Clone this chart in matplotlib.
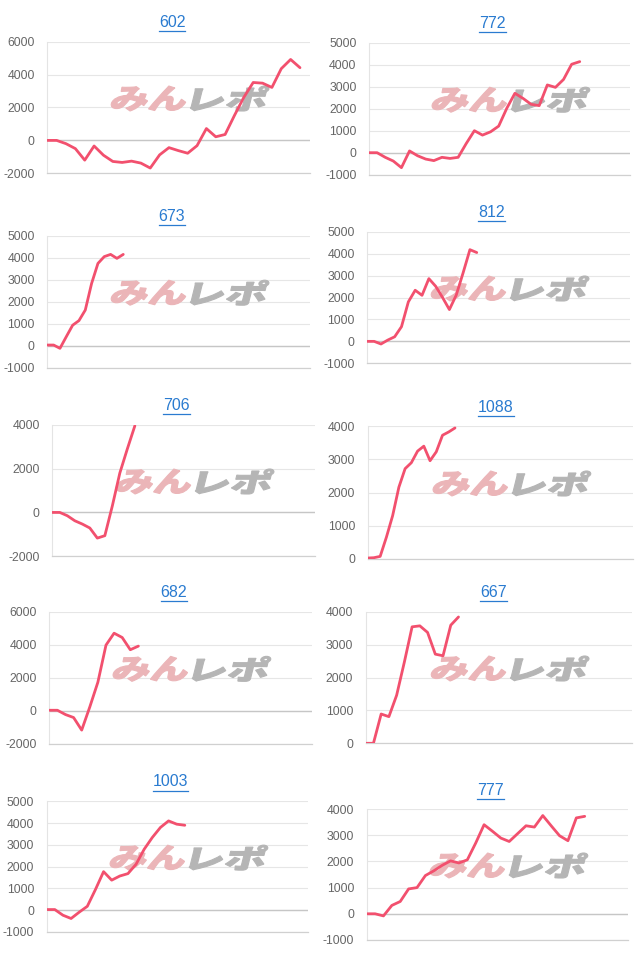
import matplotlib
matplotlib.use("Agg")
import matplotlib.pyplot as plt
from matplotlib.textpath import TextPath
from matplotlib.patches import PathPatch
from matplotlib.font_manager import FontProperties
from matplotlib.transforms import Affine2D
from matplotlib.lines import Line2D

# ---------------- data ----------------
titles = ["602", "772", "673", "812", "706", "1088", "682", "667", "1003", "777"]

values_602 = [0, 0, -200, -500, -1200, -340, -900, -1280, -1340, -1260, -1380, -1680, -880, -440,
              -620, -780, -320, 720, 220, 360, 1520, 2620, 3520, 3480, 3220, 4360, 4920, 4420]
values_772 = [0, 0, -210, -380, -680, 80, -140, -290, -360, -210, -260, -210, 420, 1000, 800, 950,
              1210, 2020, 2700, 2470, 2200, 2140, 3080, 2970, 3330, 4020, 4140]
values_673 = [30, 30, -120, 410, 930, 1140, 1620, 2830, 3740, 4050, 4150, 3970, 4150]
values_812 = [0, 0, -120, 60, 210, 670, 1800, 2330, 2100, 2860, 2510, 2000, 1450, 2110, 3120, 4180, 4050]
values_706 = [0, 0, -150, -380, -530, -710, -1170, -1060, 300, 1800, 2900, 3950]
values_1088 = [20, 30, 70, 650, 1300, 2160, 2720, 2900, 3250, 3400, 2960, 3230, 3730, 3830, 3950]
values_682 = [40, 40, -220, -400, -1160, 240, 1740, 3980, 4700, 4440, 3700, 3920]
values_667 = [0, 0, 890, 810, 1460, 2470, 3540, 3570, 3370, 2710, 2660, 3590, 3840]
values_1003 = [30, 30, -230, -380, -90, 180, 950, 1770, 1380, 1570, 1680, 2110, 2800, 3340, 3800,
               4100, 3950, 3900]
values_777 = [0, 0, -80, 320, 470, 950, 1000, 1460, 1640, 1850, 2020, 1940, 2060, 2700, 3400, 3150,
              2890, 2760, 3060, 3360, 3310, 3750, 3360, 2980, 2790, 3660, 3720]

yticks_602 = [-2000, 0, 2000, 4000, 6000]
yticks_772 = [-1000, 0, 1000, 2000, 3000, 4000, 5000]
yticks_673 = [-1000, 0, 1000, 2000, 3000, 4000, 5000]
yticks_812 = [-1000, 0, 1000, 2000, 3000, 4000, 5000]
yticks_706 = [-2000, 0, 2000, 4000]
yticks_1088 = [0, 1000, 2000, 3000, 4000]
yticks_682 = [-2000, 0, 2000, 4000, 6000]
yticks_667 = [0, 1000, 2000, 3000, 4000]
yticks_1003 = [-1000, 0, 1000, 2000, 3000, 4000, 5000]
yticks_777 = [-1000, 0, 1000, 2000, 3000, 4000]

series = [values_602, values_772, values_673, values_812, values_706,
          values_1088, values_682, values_667, values_1003, values_777]
yticks = [yticks_602, yticks_772, yticks_673, yticks_812, yticks_706,
          yticks_1088, yticks_682, yticks_667, yticks_1003, yticks_777]

# ---------------- layout (pixels) ----------------
W, H = 640, 958
# plot areas: left, right, top, bottom
areas = [(47.3, 310, 41.7, 173.3), (369, 630, 42.7, 174.7),
         (47.3, 310, 235.7, 367.7), (367.3, 630, 231.7, 363.3),
         (52.3, 315, 424.7, 556.3), (367.7, 633.3, 426.3, 558.7),
         (49.3, 311.7, 611.7, 744), (365.7, 631.7, 611.7, 743.3),
         (46.7, 308.3, 801.3, 932), (366.7, 628.3, 809, 940)]
title_pos = [(172, 22.7), (492.7, 23), (172, 216.7), (491.7, 212.7), (176.7, 405.3),
             (496, 407.7), (174, 592.7), (493.3, 592.7), (170.7, 782), (490.7, 790.7)]
x_slots = [28.07, 32.2, 41.5, 38.4, 35.0, 42.6, 32.4, 34.4, 32.2, 31.2]

LINE = "#f2506e"
TITLE_C = "#2a7bd0"
TICK_C = "#666666"

fig = plt.figure(figsize=(W / 100, H / 100), dpi=100)
fig.patch.set_facecolor("white")

cjk = FontProperties(family="Noto Sans CJK JP", weight="heavy")


def add_mark(ax, text, color, cx, cy, w, h, skew=14):
    tp = TextPath((0, 0), text, size=40, prop=cjk)
    ext = tp.get_extents()
    sx = w / ext.width
    sy = h / ext.height
    tr = (Affine2D()
          .translate(-(ext.x0 + ext.width / 2), -(ext.y0 + ext.height / 2))
          .scale(sx, sy)
          .skew_deg(skew, 0)
          .translate(cx, H - cy))
    p = PathPatch(tp, transform=tr, facecolor=color, edgecolor=color, lw=0.8,
                  zorder=1, clip_on=False)
    ax.add_patch(p)


renderer = fig.canvas.get_renderer()

for i, (vals, yt) in enumerate(zip(series, yticks)):
    l, r, t, b = areas[i]
    ax = fig.add_axes([l / W, 1 - b / H, (r - l) / W, (b - t) / H])
    ax.patch.set_visible(False)
    ax.plot(range(len(vals)), vals, color=LINE, lw=2.0,
            solid_joinstyle="round", solid_capstyle="round", zorder=3)
    ax.set_xlim(0, x_slots[i])
    ax.set_ylim(yt[0], yt[-1])
    ax.set_yticks(yt)
    ax.set_yticklabels([str(v) for v in yt], fontfamily="Liberation Sans")
    ax.set_xticks([])
    ax.tick_params(axis="y", length=0, pad=9, labelsize=8.8, labelcolor=TICK_C)
    for s in ["top", "right"]:
        ax.spines[s].set_visible(False)
    ax.spines["left"].set_color("#e4e4e4")
    ax.spines["left"].set_linewidth(0.8)
    ax.spines["bottom"].set_color("#d0d0d0")
    ax.spines["bottom"].set_linewidth(0.9)
    ax.yaxis.grid(True, color="#e6e6e6", lw=0.8)
    ax.set_axisbelow(True)
    if yt[0] < 0:
        ax.axhline(0, color="#c6c6c6", lw=1.0, zorder=2)

    # watermark
    wcx = (l + r) / 2 + 11
    wcy = (t + b) / 2 - 9
    add_mark(ax, "みん", "#ebb5b8", wcx - 40, wcy, 74, 25)
    add_mark(ax, "レポ", "#b5b5b5", wcx + 40, wcy, 74, 25)

    # title (link style)
    tx, ty = title_pos[i]
    txt = fig.text(tx / W, 1 - ty / H, titles[i], ha="center", va="center",
                   fontsize=11.5, color=TITLE_C, fontfamily="Liberation Sans")
    bb = txt.get_window_extent(renderer)
    uy = bb.y0 - 1.0
    fig.add_artist(Line2D([bb.x0 / W, bb.x1 / W], [uy / H, uy / H],
                          transform=fig.transFigure, color=TITLE_C, lw=0.9))

fig.savefig("out.png", dpi=100)
